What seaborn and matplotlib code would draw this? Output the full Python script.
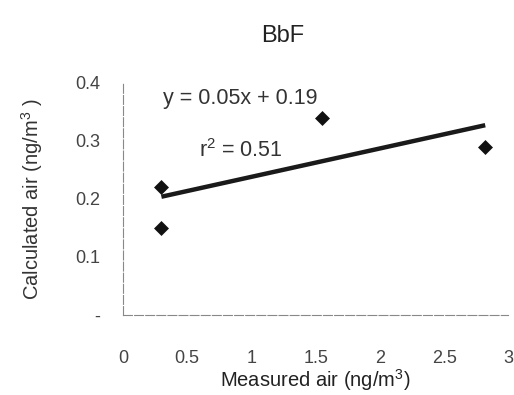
import matplotlib
matplotlib.use("Agg")
import matplotlib.pyplot as plt
import seaborn as sns
import numpy as np
import pandas as pd

# Data
measured = [0.30, 0.30, 1.55, 2.82]
calculated = [0.22, 0.15, 0.34, 0.29]
x_ticks = [0, 0.5, 1, 1.5, 2, 2.5, 3]
x_ticklabels = ["0", "0.5", "1", "1.5", "2", "2.5", "3"]
y_ticks = [0, 0.1, 0.2, 0.3, 0.4]
y_ticklabels = ["-", "0.1", "0.2", "0.3", "0.4"]
title = "BbF"
eq_text = "y = 0.05x + 0.19"
r2_text = "r$^{2}$ = 0.51"

df = pd.DataFrame({"measured": measured, "calculated": calculated})

sns.set_style("white")
plt.rcParams["font.family"] = ["Liberation Sans", "DejaVu Sans"]
plt.rcParams["mathtext.fontset"] = "custom"
plt.rcParams["mathtext.rm"] = "Liberation Sans"
plt.rcParams["mathtext.it"] = "Liberation Sans:italic"

fig = plt.figure(figsize=(5.14, 3.95), dpi=100)
ax = fig.add_axes([0.239, 0.2025, 0.750, 0.5875])

sns.regplot(data=df, x="measured", y="calculated", ax=ax, scatter=False, ci=None,
            color="#1a1a1a", line_kws={"linewidth": 3.2, "solid_capstyle": "butt"})
sns.scatterplot(data=df, x="measured", y="calculated", ax=ax, marker="D", s=58,
                color="#111111", edgecolor="#111111", linewidth=0, zorder=5)

ax.set_xlim(0, 3)
ax.set_ylim(0, 0.4)
ax.set_xticks(x_ticks)
ax.set_xticklabels(x_ticklabels)
ax.set_yticks(y_ticks)
ax.set_yticklabels(y_ticklabels)

for side in ["top", "right"]:
    ax.spines[side].set_visible(False)
for side in ["left", "bottom"]:
    ax.spines[side].set_color("#888888")
    ax.spines[side].set_linewidth(0.8)
    ax.spines[side].set_linestyle((0, (8, 2)))

ax.tick_params(axis="x", direction="out", length=4, width=0.8, color="#888888",
               pad=21, labelsize=13, labelcolor="#444444")
ax.tick_params(axis="y", direction="out", length=4, width=0.8, color="#888888",
               pad=12, labelsize=13, labelcolor="#444444")

ax.set_xlabel("Measured air (ng/m$^{3}$)", fontsize=14.5, color="#222222", labelpad=0)
ax.set_ylabel("Calculated air (ng/m$^{3}$ )", fontsize=14.5, color="#333333", labelpad=22)
fig.text(283 / 514, 1 - 36 / 395, title, fontsize=17, color="#222222",
         ha="center", va="center")

ax.text(0.31, 0.374, eq_text, fontsize=15.5, color="#333333", va="center", ha="left")
ax.text(0.59, 0.284, r2_text, fontsize=15.5, color="#333333", va="center", ha="left")

ax.set_facecolor("white")
fig.patch.set_facecolor("white")
fig.savefig("out.png", dpi=100)
